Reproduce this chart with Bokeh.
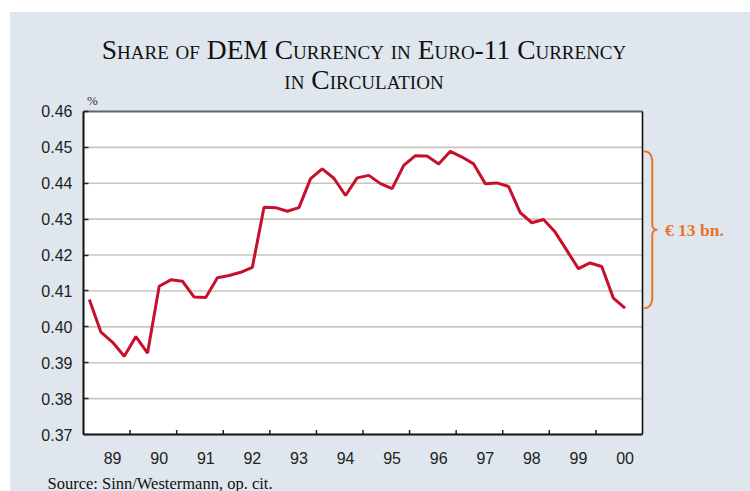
import numpy as np
from bokeh.plotting import figure
from bokeh.models import Range1d, FixedTicker, NumeralTickFormatter, Title, Div
from bokeh.layouts import column
from bokeh.core.properties import value
from bokeh.embed import file_html
from bokeh.resources import INLINE

# ---------------- data ----------------
title_text = "Share of DEM Currency in Euro-11 Currency<br>in Circulation"
source_text = "Source: Sinn/Westermann, op. cit."
unit_label = "%"
brace_label = "€ 13 bn."

start_year = 1989
end_year = 2001
year_labels = ["89", "90", "91", "92", "93", "94", "95", "96", "97", "98", "99", "00"]
y_ticks = [0.37, 0.38, 0.39, 0.40, 0.41, 0.42, 0.43, 0.44, 0.45, 0.46]

# quarterly share of DEM currency, 1989 Q1 .. 2000 Q3
share = [
    0.4076, 0.3985, 0.3957, 0.3918,
    0.3973, 0.3927, 0.4113, 0.4131,
    0.4127, 0.4083, 0.4082, 0.4137,
    0.4143, 0.4152, 0.4166, 0.4333,
    0.4332, 0.4322, 0.4332, 0.4413,
    0.4440, 0.4414, 0.4366, 0.4415,
    0.4422, 0.4399, 0.4385, 0.4450,
    0.4477, 0.4476, 0.4454, 0.4489,
    0.4473, 0.4454, 0.4399, 0.4401,
    0.4391, 0.4318, 0.4290, 0.4299,
    0.4264, 0.4213, 0.4162, 0.4178,
    0.4168, 0.4080, 0.4052,
]
quarter_x = start_year + (np.arange(len(share)) + 0.5) / 4.0

# ---------------- style ----------------
BG = "#dfe6ed"
LINE = "#c8102e"
ORANGE = "#e8742a"
GRID = "#c9c6be"
YEAR_PX = 46.583          # pixels per year
VAL_PX = 3589.0           # pixels per unit of share
FRAME_W = 667
TOP_PAD = 17
FRAME_H = int(round((y_ticks[-1] - y_ticks[0]) * VAL_PX)) + TOP_PAD
LABEL_POS = 0.625         # label position within each year

x_end = start_year + FRAME_W / YEAR_PX
y_start = y_ticks[0]
y_end = y_ticks[-1] + TOP_PAD / VAL_PX

p = figure(frame_width=FRAME_W, frame_height=FRAME_H,
           x_range=Range1d(start_year, x_end), y_range=Range1d(y_start, y_end),
           output_backend="svg", toolbar_location=None,
           min_border_left=73, min_border_right=0, min_border_top=0, min_border_bottom=57,
           background_fill_color=BG, border_fill_color=BG, outline_line_color=None)
p.grid.visible = False

# white plotting box
p.quad(left=[start_year], right=[end_year], bottom=[y_ticks[0]], top=[y_ticks[-1]],
       fill_color="white", line_color=None)
# horizontal grid lines
inner = y_ticks[1:-1]
p.segment(x0=[start_year] * len(inner), x1=[end_year] * len(inner), y0=inner, y1=inner,
          line_color=GRID, line_width=1.6)
# top and right border of the box
p.segment(x0=[start_year], x1=[end_year], y0=[y_ticks[-1]], y1=[y_ticks[-1]],
          line_color="#666666", line_width=2)
p.segment(x0=[end_year], x1=[end_year], y0=[y_ticks[0]], y1=[y_ticks[-1]],
          line_color="#111111", line_width=1.6)
# year boundary ticks (inside)
bounds_years = list(range(start_year + 1, end_year))
p.segment(x0=bounds_years, x1=bounds_years, y0=[y_ticks[0]] * len(bounds_years),
          y1=[y_ticks[0] + 4.5 / VAL_PX] * len(bounds_years), line_color="#222222", line_width=1.5)

# data line
p.line(quarter_x, share, line_color=LINE, line_width=3)

# brace annotation from peak to last value
y_top = max(share)
y_bot = share[-1]
H = (y_top - y_bot) * VAL_PX
mid = H / 2
tip, stem, point, r1, r2 = 1.5, 9.8, 14.8, 12.0, 6.0


def quad_bez(p0, c, p1, n=14):
    t = np.linspace(0, 1, n)
    xs = (1 - t) ** 2 * p0[0] + 2 * (1 - t) * t * c[0] + t ** 2 * p1[0]
    ys = (1 - t) ** 2 * p0[1] + 2 * (1 - t) * t * c[1] + t ** 2 * p1[1]
    return list(xs), list(ys)


bx, by = [], []
for seg in [quad_bez((tip, 0), (stem, 0), (stem, r1)),
            ([stem, stem], [r1, mid - r2]),
            quad_bez((stem, mid - r2), (stem, mid), (point, mid)),
            quad_bez((point, mid), (stem, mid), (stem, mid + r2)),
            ([stem, stem], [mid + r2, H - r1]),
            quad_bez((stem, H - r1), (stem, H), (tip, H))]:
    bx += list(seg[0])
    by += list(seg[1])
brace_x = [end_year + v / YEAR_PX for v in bx]
brace_y = [y_top - v / VAL_PX for v in by]
p.line(brace_x, brace_y, line_color=ORANGE, line_width=2)
p.text(x=[end_year + 22.5 / YEAR_PX], y=[(y_top + y_bot) / 2], text=[brace_label],
       text_align="left", text_baseline="middle", text_color=ORANGE,
       text_font=value("Liberation Serif"), text_font_style="bold", text_font_size="17.5px")

# unit label
p.text(x=[start_year + 9 / YEAR_PX], y=[y_ticks[-1] + 11 / VAL_PX], text=[unit_label],
       text_align="center", text_baseline="middle", text_color="#333333",
       text_font=value("Liberation Serif"), text_font_size="13px")

# x axis: labels within each year
xa = p.xaxis[0]
mids = [start_year + i + LABEL_POS for i in range(len(year_labels))]
xa.ticker = FixedTicker(ticks=mids)
xa.major_label_overrides = {m: lab for m, lab in zip(mids, year_labels)}
xa.bounds = (start_year, end_year)
xa.major_tick_line_color = None
xa.minor_tick_line_color = None
xa.axis_line_color = "#111111"
xa.axis_line_width = 2
xa.major_label_standoff = 11
xa.major_label_text_font = "Liberation Sans"
xa.major_label_text_font_size = "16px"
xa.major_label_text_color = "#222222"

ya = p.yaxis[0]
ya.ticker = FixedTicker(ticks=y_ticks)
ya.formatter = NumeralTickFormatter(format="0.00")
ya.bounds = (y_ticks[0], y_ticks[-1])
ya.major_tick_in = 5
ya.major_tick_out = 0
ya.major_tick_line_color = "#222222"
ya.major_tick_line_width = 1.5
ya.minor_tick_line_color = None
ya.axis_line_color = "#111111"
ya.axis_line_width = 2
ya.major_label_standoff = 11
ya.major_label_text_font = "Liberation Sans"
ya.major_label_text_font_size = "16px"
ya.major_label_text_color = "#222222"

src = Title(text=source_text, align="left", offset=-36, standoff=10,
            text_font="Liberation Serif", text_font_size="16.5px", text_font_style="normal",
            text_color="#111111")
p.add_layout(src, "below")

title_html = (
    '<div style="display:block;width:740px;box-sizing:border-box;'
    'font-family:\'Liberation Serif\',serif;font-size:27.5px;font-variant:small-caps;'
    'text-align:center;line-height:30px;padding-top:23px;padding-right:32px;color:#111;'
    'white-space:nowrap;">' + title_text + '</div>'
)
title_div = Div(text=title_html, width=740, height=82, margin=0,
                styles={"background-color": BG})

layout = column(title_div, p, margin=(12, 0, 0, 10), spacing=0,
                styles={"background-color": BG})

open("out.html", "w").write(file_html(layout, INLINE))
